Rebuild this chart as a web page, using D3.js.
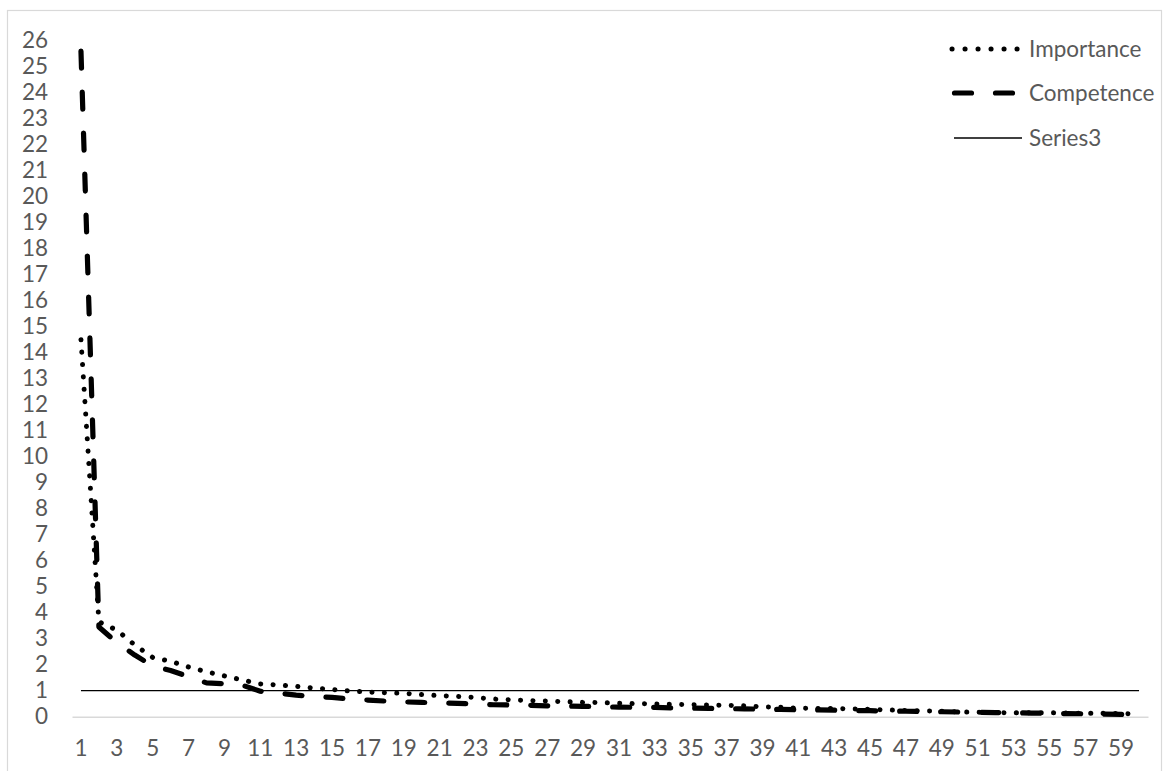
<!DOCTYPE html>
<html>
<head>
<meta charset="utf-8">
<script src="https://cdn.jsdelivr.net/npm/d3@7"></script>
<style>
  html, body { margin: 0; padding: 0; background: #ffffff; }
  svg { display: block; }
  .tick text { font-family: Lato, "Open Sans", sans-serif; fill: #595959; }
</style>
</head>
<body>
<svg id="chart" width="1169" height="771"></svg>
<script>
// ---- data ----
const categories = d3.range(1, 61);
const importance = [14.5, 3.65, 3.33, 2.76, 2.28, 2.13, 1.91, 1.73, 1.57, 1.41,
  1.26, 1.22, 1.17, 1.10, 1.05, 0.99, 0.95, 0.92, 0.90, 0.85,
  0.81, 0.78, 0.74, 0.68, 0.65, 0.62, 0.60, 0.58, 0.55, 0.54,
  0.52, 0.50, 0.49, 0.48, 0.46, 0.45, 0.44, 0.42, 0.38, 0.36,
  0.33, 0.32, 0.32, 0.30, 0.28, 0.26, 0.24, 0.22, 0.21, 0.18,
  0.17, 0.16, 0.15, 0.15, 0.15, 0.14, 0.13, 0.13, 0.12, 0.10];
const competence = [25.6, 3.45, 2.85, 2.37, 1.95, 1.78, 1.54, 1.30, 1.27, 1.21,
  0.98, 0.91, 0.83, 0.78, 0.74, 0.68, 0.64, 0.60, 0.57, 0.55,
  0.53, 0.51, 0.49, 0.46, 0.45, 0.44, 0.42, 0.41, 0.40, 0.38,
  0.37, 0.36, 0.36, 0.34, 0.33, 0.32, 0.31, 0.30, 0.29, 0.28,
  0.27, 0.26, 0.25, 0.24, 0.23, 0.22, 0.21, 0.20, 0.19, 0.18,
  0.17, 0.16, 0.15, 0.14, 0.13, 0.12, 0.11, 0.10, 0.09, 0.08];
const series3 = categories.map(() => 1);
const yTicks = d3.range(0, 27);
const xTicks = categories.filter(d => d % 2 === 1);
const seriesNames = ["Importance", "Competence", "Series3"];

// ---- layout ----
const svg = d3.select("#chart");
const plotLeft = 72, plotRight = 1148, plotTop = 40.7, plotBottom = 716.7;
const fontSize = 22.5;

svg.append("rect")
  .attr("x", 7.5).attr("y", 10.5)
  .attr("width", 1154).attr("height", 800)
  .attr("fill", "none").attr("stroke", "#d9d9d9").attr("stroke-width", 1.2);

const x = d3.scaleBand().domain(categories).range([plotLeft, plotRight]).padding(0);
const cx = d => x(d) + x.bandwidth() / 2;
const y = d3.scaleLinear().domain([0, 26]).range([plotBottom, plotTop]);

// y axis
const gy = svg.append("g").attr("transform", `translate(${plotLeft},0)`)
  .call(d3.axisLeft(y).tickValues(yTicks).tickSize(0).tickPadding(24).tickFormat(d3.format("d")));
gy.select(".domain").remove();
gy.selectAll("text").attr("font-size", fontSize);

// x axis
const gx = svg.append("g").attr("transform", `translate(0,${plotBottom})`)
  .call(d3.axisBottom(x).tickValues(xTicks).tickSize(0).tickSizeOuter(0).tickPadding(23));
gx.select(".domain").attr("stroke", "#d9d9d9").attr("stroke-width", 1.6);
gx.selectAll("text").attr("font-size", fontSize);

const line = d3.line().x((d, i) => cx(categories[i])).y(d => y(d));

// Series3 (threshold)
svg.append("path").datum(series3)
  .attr("d", line).attr("fill", "none")
  .attr("stroke", "#000").attr("stroke-width", 1.3);

// Competence (dashed)
svg.append("path").datum(competence)
  .attr("d", line).attr("fill", "none")
  .attr("stroke", "#000").attr("stroke-width", 5.2)
  .attr("stroke-linecap", "round").attr("stroke-linejoin", "round")
  .attr("stroke-dasharray", "17 24");

// Importance (dotted)
svg.append("path").datum(importance)
  .attr("d", line).attr("fill", "none")
  .attr("stroke", "#000").attr("stroke-width", 5)
  .attr("stroke-linecap", "round").attr("stroke-linejoin", "round")
  .attr("stroke-dasharray", "0.1 12.3");

// ---- legend ----
const legendY = [49, 93, 138];
const lg = svg.append("g");
lg.append("line").attr("x1", 952).attr("x2", 1017.5).attr("y1", legendY[0]).attr("y2", legendY[0])
  .attr("stroke", "#000").attr("stroke-width", 5).attr("stroke-linecap", "round")
  .attr("stroke-dasharray", "0.1 12.9");
lg.append("line").attr("x1", 954.5).attr("x2", 1014.5).attr("y1", legendY[1]).attr("y2", legendY[1])
  .attr("stroke", "#000").attr("stroke-width", 5.2).attr("stroke-linecap", "round")
  .attr("stroke-dasharray", "17 24");
lg.append("line").attr("x1", 954).attr("x2", 1022).attr("y1", legendY[2]).attr("y2", legendY[2])
  .attr("stroke", "#000").attr("stroke-width", 1.3);
lg.selectAll("text.lbl").data(seriesNames).enter().append("text")
  .attr("class", "lbl")
  .attr("x", 1029).attr("y", (d, i) => legendY[i]).attr("dy", "0.35em")
  .attr("font-family", "Lato, 'Open Sans', sans-serif").attr("font-size", fontSize)
  .attr("fill", "#595959").text(d => d);
</script>
</body>
</html>
